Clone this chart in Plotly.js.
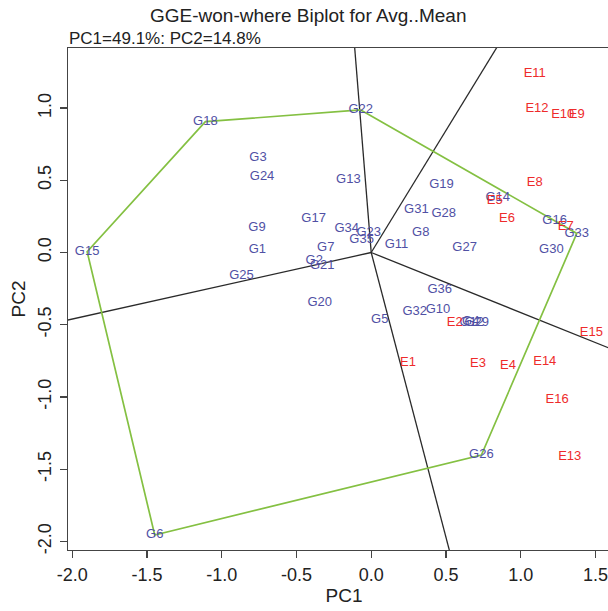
<!DOCTYPE html>
<html>
<head>
<meta charset="utf-8">
<script src="https://cdn.plot.ly/plotly-3.0.1.min.js"></script>
<style>
html,body{margin:0;padding:0;overflow:hidden;background:#fff;}
#chart{width:620px;height:611px;}
</style>
</head>
<body>
<div id="chart"></div>
<script>
// Genotype scores (PC1, PC2)
var genoNames = ['G1','G2','G3','G4','G5','G6','G7','G8','G9','G10','G11','G12','G13','G14','G15','G16','G17','G18','G19','G20','G21','G22','G23','G24','G25','G26','G27','G28','G29','G30','G31','G32','G33','G34','G35','G36'];
var genoPC1 = [-0.761,-0.381,-0.757,0.666,0.057,-1.448,-0.304,0.331,-0.764,0.447,0.169,0.672,-0.153,0.846,-1.900,1.227,-0.385,-1.109,0.470,-0.344,-0.328,-0.070,-0.017,-0.730,-0.868,0.737,0.625,0.485,0.706,1.205,0.302,0.291,1.375,-0.164,-0.064,0.458];
var genoPC2 = [0.022,-0.059,0.659,-0.481,-0.467,-1.956,0.031,0.137,0.168,-0.393,0.052,-0.488,0.502,0.377,0.006,0.218,0.232,0.906,0.467,-0.345,-0.093,0.987,0.135,0.523,-0.161,-1.402,0.033,0.267,-0.488,0.017,0.299,-0.410,0.132,0.163,0.087,-0.256];

// Environment scores (PC1, PC2)
var envNames = ['E1','E2','E3','E4','E5','E6','E7','E8','E9','E10','E11','E12','E13','E14','E15','E16'];
var envPC1 = [0.246,0.559,0.714,0.915,0.826,0.908,1.301,1.094,1.375,1.281,1.094,1.109,1.328,1.161,1.473,1.243];
var envPC2 = [-0.760,-0.488,-0.767,-0.784,0.360,0.237,0.175,0.483,0.952,0.952,1.241,0.994,-1.414,-0.756,-0.553,-1.017];

// Convex hull (vertex genotypes, in order)
var hullOrder = ['G22','G33','G26','G6','G15','G18','G22'];

// Axis ticks
var tickVals = [-2.0,-1.5,-1.0,-0.5,0.0,0.5,1.0,1.5];
var tickText = ['-2.0','-1.5','-1.0','-0.5','0.0','0.5','1.0','1.5'];

var titleText = 'GGE-won-where Biplot for Avg..Mean';
var subText = 'PC1=49.1%: PC2=14.8%';

var xRange = [-2.028, 1.664];
var yRange = [-2.060, 1.416];

function gpt(name){ var i = genoNames.indexOf(name); return [genoPC1[i], genoPC2[i]]; }

var hullX = hullOrder.map(function(n){return gpt(n)[0];});
var hullY = hullOrder.map(function(n){return gpt(n)[1];});

// Rays: from origin perpendicular to each hull side (when the foot lies on the side)
var rayX = [], rayY = [];
for (var k = 0; k < hullOrder.length - 1; k++) {
  var a = gpt(hullOrder[k]), b = gpt(hullOrder[k+1]);
  var dx = b[0]-a[0], dy = b[1]-a[1];
  var t = -(a[0]*dx + a[1]*dy) / (dx*dx + dy*dy);
  if (t < 0 || t > 1) continue;
  var fx = a[0] + t*dx, fy = a[1] + t*dy;
  var len = Math.sqrt(fx*fx + fy*fy);
  var ux = fx/len, uy = fy/len;
  rayX.push(0, ux*10, null);
  rayY.push(0, uy*10, null);
}

var FONT = 'Liberation Sans, Arial, sans-serif';

var traces = [
  {x: rayX, y: rayY, mode: 'lines', line: {color: '#2a2a2a', width: 1.3}, hoverinfo: 'skip', showlegend: false},
  {x: hullX, y: hullY, mode: 'lines', line: {color: '#84c042', width: 1.7}, hoverinfo: 'skip', showlegend: false},
  {x: genoPC1, y: genoPC2, text: genoNames, mode: 'text', textposition: 'middle center',
   textfont: {family: FONT, size: 13, color: '#5050a4'}, showlegend: false, cliponaxis: false},
  {x: envPC1, y: envPC2, text: envNames, mode: 'text', textposition: 'middle center',
   textfont: {family: FONT, size: 13, color: '#ee2b2b'}, showlegend: false, cliponaxis: false}
];

var tickFont = {family: FONT, size: 18, color: '#222'};
var axTitleFont = {family: FONT, size: 19, color: '#222'};

var layout = {
  width: 620, height: 611,
  margin: {l: 68, r: 0, t: 48, b: 61},
  paper_bgcolor: '#fff', plot_bgcolor: '#fff',
  font: {family: FONT, color: '#222'},
  xaxis: {
    range: xRange, tickvals: tickVals, ticktext: tickText,
    showgrid: false, zeroline: false, showline: true, linecolor: '#444', linewidth: 1.2, mirror: true,
    ticks: 'outside', ticklen: 7, tickcolor: '#444', tickwidth: 1.2,
    tickfont: tickFont, ticklabelstandoff: 1,
    title: {text: 'PC1', font: axTitleFont, standoff: 2}
  },
  yaxis: {
    range: yRange, tickvals: tickVals, ticktext: tickText,
    showgrid: false, zeroline: false, showline: true, linecolor: '#444', linewidth: 1.2, mirror: true,
    ticks: 'outside', ticklen: 7, tickcolor: '#444', tickwidth: 1.2,
    tickfont: tickFont, tickangle: -90, ticklabelstandoff: 2,
    title: {text: 'PC2', font: axTitleFont, standoff: 4}
  },
  annotations: [
    {text: titleText, xref: 'paper', yref: 'paper', x: 0.435, y: 1.064, xanchor: 'center', yanchor: 'middle',
     showarrow: false, font: {family: FONT, size: 19, color: '#222'}},
    {text: subText, xref: 'paper', yref: 'paper', x: -0.002, y: 1.018, xanchor: 'left', yanchor: 'middle',
     showarrow: false, font: {family: FONT, size: 17, color: '#222'}}
  ]
};

Plotly.newPlot('chart', traces, layout, {displayModeBar: false, staticPlot: true});
</script>
</body>
</html>
